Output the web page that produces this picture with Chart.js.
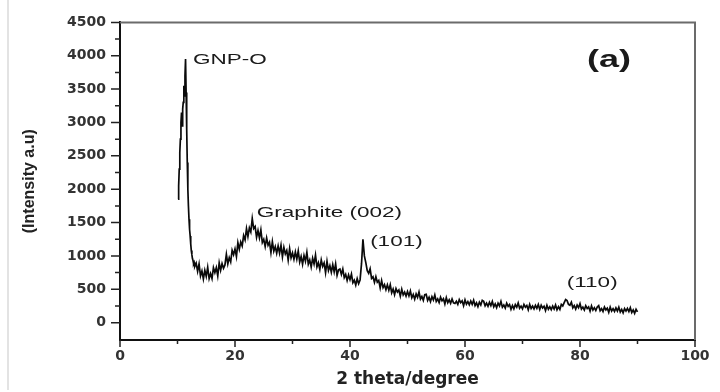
<!DOCTYPE html>
<html>
<head>
<meta charset="utf-8">
<script src="https://cdn.jsdelivr.net/npm/chart.js@4.4.1/dist/chart.umd.min.js"></script>
<style>
  html, body { margin: 0; padding: 0; background: #fff; }
  #wrap { position: relative; width: 720px; height: 392px; }
  #edge { position: absolute; left: 7px; top: 0; width: 2px; height: 390px; background: #e3e3e3; }
  canvas { position: absolute; left: 0; top: 0; }
</style>
</head>
<body>
<div id="wrap"><div id="edge"></div><canvas id="xrdChart" width="720" height="392"></canvas></div>
<script>
// 2 theta sampling: 0.1 deg steps across the GNP-O peak, 0.25 deg steps after it
const fineStart = 10.1, fineStep = 0.1;
const fineCounts = [1850, 2050, 2300, 2550, 2750, 3000, 3150, 2950, 3200, 3300,
    3550, 3400, 3700, 3950, 3450, 2900, 2400, 2000, 1750, 1550,
    1400, 1300, 1180, 1080, 1020, 960, 930, 880, 900, 840];

const coarseStart = 13.25, coarseStep = 0.25;
const coarseCounts = [
    890, 770, 880, 700, 775, 655, 785, 695, 830, 660, 735, 660, 825, 750, 825, 700, 895, 785, 885, 815,
    865, 1025, 880, 975, 910, 1085, 1020, 1105, 990, 1200, 1100, 1210, 1150, 1305, 1240, 1410, 1290, 1420, 1360, 1560,
    1410, 1440, 1280, 1380, 1270, 1390, 1200, 1250, 1140, 1270, 1160, 1205, 1050, 1215, 1070, 1140, 1040, 1150, 1040, 1160,
    985, 1128, 1030, 1083, 936, 1109, 972, 1045, 948, 1060, 953, 1076, 909, 992, 875, 1008, 921, 1054, 877, 940,
    833, 966, 879, 1012, 835, 898, 800, 942, 844, 896, 748, 920, 782, 854, 756, 868, 760, 880, 710, 790,
    802, 722, 803, 676, 724, 632, 715, 644, 727, 598, 637, 564, 659, 586, 640, 880, 1250, 1000, 900, 780,
    739, 807, 663, 687, 604, 689, 606, 633, 520, 631, 525, 569, 494, 567, 487, 568, 448, 504, 420, 511,
    458, 488, 398, 500, 416, 458, 399, 466, 401, 474, 373, 422, 352, 432, 380, 460, 354, 392, 334, 420,
    425, 333, 379, 315, 390, 341, 416, 319, 355, 302, 382, 329, 359, 279, 375, 300, 342, 290, 354, 297,
    287, 320, 273, 346, 299, 327, 255, 343, 276, 314, 267, 325, 273, 336, 254, 297, 240, 308, 266, 335,
    319, 253, 292, 246, 305, 254, 318, 237, 281, 225, 293, 251, 319, 232, 265, 218, 291, 244, 272, 200,
    258, 207, 270, 232, 295, 217, 248, 206, 273, 231, 257, 193, 273, 213, 249, 207, 260, 214, 272, 198,
    261, 219, 245, 181, 261, 201, 237, 195, 249, 204, 264, 193, 239, 197, 273, 251, 300, 345, 330, 275,
    262, 306, 223, 257, 203, 263, 223, 284, 204, 233, 189, 255, 212, 237, 172, 251, 190, 225, 182, 234,
    256, 178, 209, 167, 234, 192, 218, 154, 234, 174, 210, 168, 221, 175, 233, 159, 199, 148, 211, 173,
    213, 167, 225, 151, 191, 139, 201, 161];

const xTicks = [0, 20, 40, 60, 80, 100];
const xMinor = [10, 30, 50, 70, 90];
const yTicks = [0, 500, 1000, 1500, 2000, 2500, 3000, 3500, 4000, 4500];
const yMinor = [250, 750, 1250, 1750, 2250, 2750, 3250, 3750, 4250];

const peakLabels = [
    { text: 'GNP-O', x: 12.7, y: 3879 },
    { text: 'Graphite (002)', x: 23.8, y: 1589 },
    { text: '(101)', x: 43.5, y: 1155 },
    { text: '(110)', x: 77.7, y: 534 }
];
const panelLabel = { text: '(a)', x: 81.2, y: 3830 };

const points = [];
fineCounts.forEach((v, i) => points.push({ x: +(fineStart + i * fineStep).toFixed(2), y: v }));
coarseCounts.forEach((v, i) => points.push({ x: +(coarseStart + i * coarseStep).toFixed(2), y: v }));

// top/right frame, outward tick marks and the peak labels
const frameAndMarks = {
    id: 'frameAndMarks',
    afterDraw(chart) {
        const { ctx, chartArea: a, scales: { x, y } } = chart;
        ctx.save();
        ctx.strokeStyle = '#6b6b6b';
        ctx.lineWidth = 2;
        ctx.beginPath();
        ctx.moveTo(a.left, a.top);
        ctx.lineTo(a.right, a.top);
        ctx.lineTo(a.right, a.bottom);
        ctx.stroke();

        ctx.strokeStyle = '#222';
        ctx.lineWidth = 1.5;
        ctx.beginPath();
        yTicks.forEach(v => { const p = y.getPixelForValue(v); ctx.moveTo(a.left - 9, p); ctx.lineTo(a.left, p); });
        yMinor.forEach(v => { const p = y.getPixelForValue(v); ctx.moveTo(a.left - 5, p); ctx.lineTo(a.left, p); });
        xTicks.forEach(v => { const p = x.getPixelForValue(v); ctx.moveTo(p, a.bottom); ctx.lineTo(p, a.bottom + 7); });
        xMinor.forEach(v => { const p = x.getPixelForValue(v); ctx.moveTo(p, a.bottom); ctx.lineTo(p, a.bottom + 4); });
        ctx.stroke();

        ctx.fillStyle = '#1a1a1a';
        ctx.textAlign = 'left';
        ctx.textBaseline = 'alphabetic';
        const drawWide = (l, font) => {
            ctx.save();
            ctx.font = font;
            ctx.translate(x.getPixelForValue(l.x), y.getPixelForValue(l.y));
            ctx.scale(1.5, 1);
            ctx.fillText(l.text, 0, 0);
            ctx.restore();
        };
        peakLabels.forEach(l => drawWide(l, '15px "Liberation Sans"'));
        drawWide(panelLabel, 'bold 24px "Liberation Sans"');
        ctx.restore();
    }
};

const tickFont = { family: 'DejaVu Sans', size: 14, weight: 'bold' };

new Chart(document.getElementById('xrdChart').getContext('2d'), {
    type: 'line',
    data: {
        datasets: [{
            data: points,
            borderColor: '#0a0a0a',
            borderWidth: 1.7,
            pointRadius: 0,
            tension: 0
        }]
    },
    options: {
        responsive: false,
        animation: false,
        layout: { padding: { left: 0, right: 25, top: 14, bottom: 0 } },
        plugins: { legend: { display: false }, tooltip: { enabled: false } },
        scales: {
            x: {
                type: 'linear',
                min: 0,
                max: 100,
                afterBuildTicks: s => { s.ticks = xTicks.map(v => ({ value: v })); },
                afterFit: s => { s.height = 52; },
                grid: { drawOnChartArea: false, drawTicks: false },
                border: { color: '#111', width: 2 },
                ticks: { font: tickFont, color: '#333', padding: 8, maxRotation: 0, callback: v => String(v) },
                title: {
                    display: true,
                    text: '2 theta/degree',
                    font: { family: 'DejaVu Sans', size: 17, weight: 'bold' },
                    color: '#222',
                    padding: { top: 0, bottom: 2 }
                }
            },
            y: {
                min: -260,
                max: 4500,
                afterBuildTicks: s => { s.ticks = yTicks.map(v => ({ value: v })); },
                afterFit: s => { s.width = 120; },
                grid: { drawOnChartArea: false, drawTicks: false },
                border: { color: '#111', width: 2 },
                ticks: { font: tickFont, color: '#333', padding: 14, callback: v => String(v) },
                title: {
                    display: true,
                    text: '(Intensity a.u)',
                    font: { family: 'Liberation Sans', size: 16, weight: 'bold' },
                    color: '#222',
                    padding: { top: 20, bottom: 0 }
                }
            }
        }
    },
    plugins: [frameAndMarks]
});
</script>
</body>
</html>
